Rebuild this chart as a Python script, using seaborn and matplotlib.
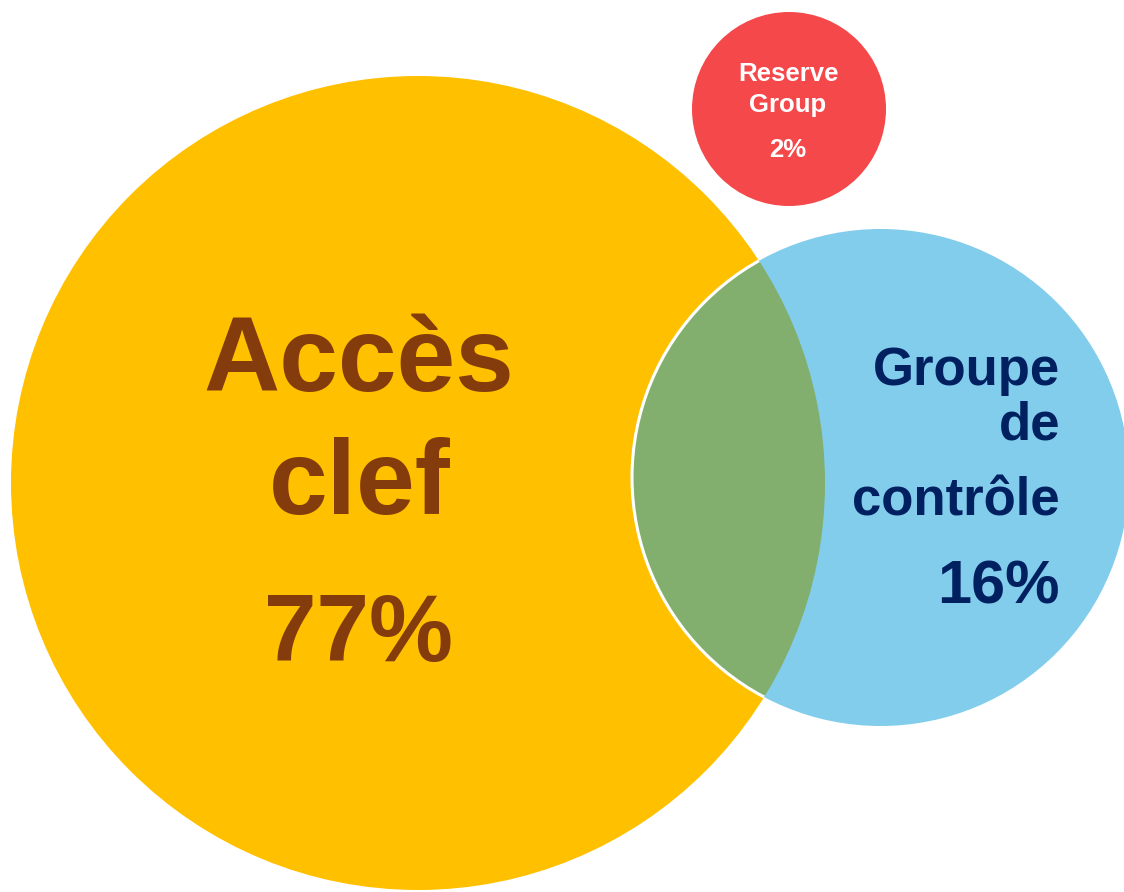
import matplotlib
matplotlib.use("Agg")
import matplotlib.pyplot as plt
from matplotlib.patches import Circle
import seaborn as sns

# ---- data ----
groups = ["Accès clef", "Groupe de contrôle", "Reserve Group"]
shares = [77, 16, 2]
label_lines = [["Accès", "clef"], ["Groupe", "de", "contrôle"], ["Reserve", "Group"]]

# ---- layout / style (pixels, y downwards) ----
W, H = 1124, 892
circ_geom = [(418, 483, 407), (880.5, 477.5, 248.5), (789, 109, 97)]
fills = ["#FFC000", "#82CCEC", "#F5484A"]
lens_color = "#82AE6E"
text_colors = ["#843C0C", "#002060", "#FFFFFF"]

sns.set_theme(style="white")
plt.rcParams["font.family"] = ["Liberation Sans", "DejaVu Sans"]

fig = plt.figure(figsize=(W / 100, H / 100), dpi=100)
ax = fig.add_axes([0, 0, 1, 1])
ax.set_xlim(0, W)
ax.set_ylim(H, 0)
ax.set_aspect("equal")
ax.axis("off")

patches = []
for (cx, cy, r), fc in zip(circ_geom, fills):
    p = Circle((cx, cy), r, facecolor=fc, edgecolor="none", zorder=1)
    ax.add_patch(p)
    patches.append(p)

# overlap lens of main and control group
bx, by, br = circ_geom[1]
lens = Circle((bx, by), br, facecolor=lens_color, edgecolor="none", zorder=2)
ax.add_patch(lens)
lens.set_clip_path(patches[0])
outline = Circle((bx, by), br, facecolor="none", edgecolor="white", lw=2.2, zorder=3)
ax.add_patch(outline)
outline.set_clip_path(patches[0])

# Main group text
ax.text(359, 391, label_lines[0][0], ha="center", va="baseline", fontsize=76,
        fontweight="bold", color=text_colors[0], zorder=5)
ax.text(360, 514, label_lines[0][1], ha="center", va="baseline", fontsize=76,
        fontweight="bold", color=text_colors[0], zorder=5)
ax.text(359, 661, f"{shares[0]}%", ha="center", va="baseline", fontsize=68,
        fontweight="bold", color=text_colors[0], zorder=5)

# Control group text (right aligned)
for line, yb in zip(label_lines[1], [385, 440, 515]):
    ax.text(1060, yb, line, ha="right", va="baseline", fontsize=38,
            fontweight="bold", color=text_colors[1], zorder=5)
ax.text(1060, 603, f"{shares[1]}%", ha="right", va="baseline", fontsize=44,
        fontweight="bold", color=text_colors[1], zorder=5)

# Reserve group text
for line, yb in zip(label_lines[2], [81, 112]):
    ax.text(788, yb, line, ha="center", va="baseline", fontsize=18.5,
            fontweight="bold", color=text_colors[2], zorder=5)
ax.text(788, 157, f"{shares[2]}%", ha="center", va="baseline", fontsize=18.5,
        fontweight="bold", color=text_colors[2], zorder=5)

fig.savefig("out.png", dpi=100, facecolor="white")
